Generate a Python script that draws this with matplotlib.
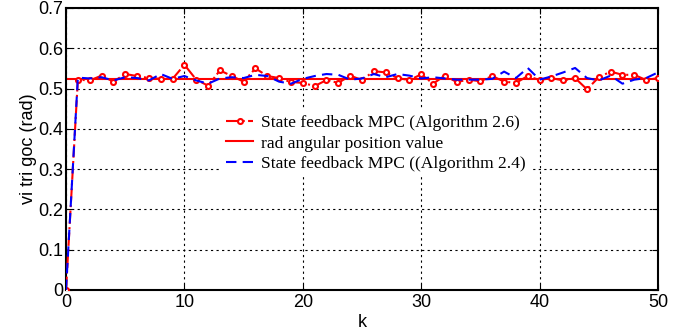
import matplotlib
matplotlib.use("Agg")
import matplotlib.pyplot as plt
import numpy as np

k = list(range(0, 51))
mpc_26 = [0.0, 0.522, 0.520, 0.532, 0.517, 0.536, 0.531, 0.526, 0.524, 0.524,
          0.559, 0.522, 0.507, 0.545, 0.531, 0.517, 0.550, 0.531, 0.526, 0.516,
          0.514, 0.506, 0.521, 0.514, 0.532, 0.521, 0.543, 0.540, 0.526, 0.521,
          0.535, 0.512, 0.532, 0.516, 0.522, 0.518, 0.531, 0.517, 0.514, 0.531,
          0.521, 0.526, 0.520, 0.526, 0.498, 0.528, 0.542, 0.534, 0.534, 0.521,
          0.526]
mpc_24 = [0.0, 0.527, 0.525, 0.528, 0.520, 0.528, 0.526, 0.520, 0.536, 0.524,
          0.531, 0.520, 0.512, 0.525, 0.528, 0.526, 0.534, 0.531, 0.517, 0.512,
          0.524, 0.531, 0.536, 0.534, 0.522, 0.525, 0.536, 0.528, 0.536, 0.532,
          0.525, 0.528, 0.525, 0.522, 0.522, 0.522, 0.524, 0.542, 0.526, 0.551,
          0.522, 0.530, 0.540, 0.551, 0.526, 0.520, 0.532, 0.512, 0.522, 0.526,
          0.540]
setpoint = [0.5236] * 51

plt.rcParams['font.family'] = ['Liberation Sans', 'DejaVu Sans']

fig = plt.figure(figsize=(6.75, 3.31), dpi=100)
ax = fig.add_axes([0.0978, 0.124, 0.877, 0.852])

ax.plot(k, mpc_26, color='red', linestyle='-.', linewidth=1.5, marker='o',
        markersize=3.6, markerfacecolor='white', markeredgecolor='red',
        markeredgewidth=1.5, label='State feedback MPC (Algorithm 2.6)', zorder=3)
ax.plot(k, setpoint, color='red', linestyle='-', linewidth=1.5,
        label='rad angular position value', zorder=2)
ax.plot(k, mpc_24, color='blue', linestyle=(0, (5, 3)), linewidth=1.5,
        label='State feedback MPC ((Algorithm 2.4)', zorder=4)

ax.set_xlim(0, 50)
ax.set_ylim(0, 0.7)
ax.set_xticks([0, 10, 20, 30, 40, 50])
ax.set_yticks([0, 0.1, 0.2, 0.3, 0.4, 0.5, 0.6, 0.7])
ax.set_yticklabels(['0', '0.1', '0.2', '0.3', '0.4', '0.5', '0.6', '0.7'])
ax.grid(True, color='black', linestyle=(0, (2, 3)), linewidth=0.8)
ax.tick_params(direction='in', length=4, labelsize=13, top=True, right=True)
ax.tick_params(axis='x', pad=3)
ax.tick_params(axis='y', pad=2)
for s in ax.spines.values():
    s.set_linewidth(1.5)
ax.set_xlabel('k', fontsize=13, labelpad=2)
ax.set_ylabel('vi tri goc (rad)', fontsize=13, labelpad=1)

leg = ax.legend(loc='upper left', bbox_to_anchor=(0.262, 0.64), frameon=True,
                prop={'family': 'Liberation Serif', 'size': 12.6},
                handlelength=1.55, handletextpad=0.45, labelspacing=0.25,
                borderpad=0.3, borderaxespad=0, fancybox=False)
leg.get_frame().set_edgecolor('none')
leg.get_frame().set_facecolor('white')
leg.get_frame().set_alpha(1.0)

fig.savefig('out.png', dpi=100)
